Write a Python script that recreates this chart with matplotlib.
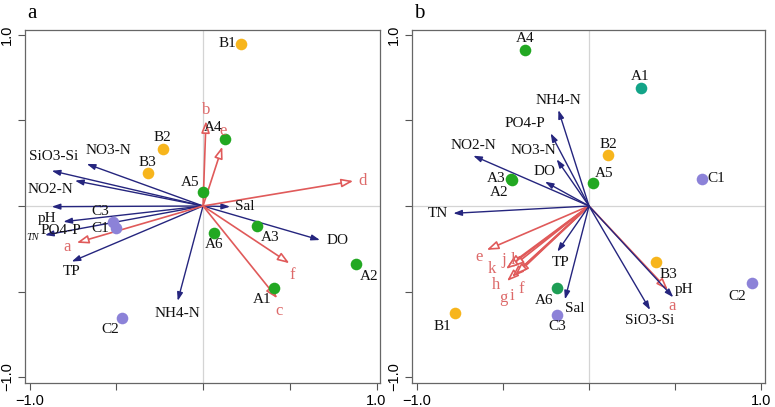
import matplotlib
matplotlib.use("Agg")
import matplotlib.pyplot as plt

plt.rcParams['font.family'] = ['Liberation Serif', 'DejaVu Serif']

# ---- panel a: sites ----
a_sites = ['B1', 'B2', 'B3', 'A4', 'A5', 'C3', 'C1', 'A6', 'A3', 'A2', 'A1', 'C2']
a_site_x = [0.22, -0.233, -0.319, 0.129, 0.0, -0.517, -0.502, 0.066, 0.313, 0.880, 0.410, -0.465]
a_site_y = [0.95, 0.332, 0.191, 0.394, 0.08, -0.092, -0.131, -0.156, -0.115, -0.339, -0.480, -0.654]

# ---- panel a: environmental vectors ----
a_env = ['SiO3-Si', 'NO3-N', 'NO2-N', 'pH', 'PO4-P', 'TN', 'TP', 'NH4-N', 'Sal', 'DO']
a_env_x = [-0.872, -0.670, -0.738, -0.872, -0.805, -0.911, -0.757, -0.146, 0.156, 0.674]
a_env_y = [0.206, 0.246, 0.148, -0.004, -0.092, -0.170, -0.325, -0.555, -0.004, -0.199]

# ---- panel a: species vectors ----
a_sp = ['a', 'b', 'e', 'd', 'f', 'c']
a_sp_x = [-0.728, 0.017, 0.111, 0.866, 0.498, 0.428]
a_sp_y = [-0.215, 0.497, 0.347, 0.146, -0.335, -0.540]

# ---- panel b: sites ----
b_sites = ['A4', 'A1', 'B2', 'C1', 'A5', 'A3', 'A2', 'B3', 'C2', 'A6', 'C3', 'B1']
b_site_x = [-0.372, 0.300, 0.112, 0.655, 0.021, -0.455, -0.45, 0.388, 0.946, -0.186, -0.186, -0.779]
b_site_y = [0.912, 0.692, 0.298, 0.158, 0.133, 0.158, 0.15, -0.325, -0.452, -0.481, -0.637, -0.627]

# ---- panel b: environmental vectors ----
b_env = ['NH4-N', 'PO4-P', 'NO3-N', 'DO', 'NO2-N', 'TN', 'TP', 'Sal', 'SiO3-Si', 'pH']
b_env_x = [-0.178, -0.223, -0.188, -0.256, -0.673, -0.789, -0.184, -0.140, 0.355, 0.490]
b_env_y = [0.561, 0.425, 0.273, 0.142, 0.294, -0.043, -0.267, -0.546, -0.608, -0.534]

# ---- panel b: species vectors ----
b_sp = ['e', 'j', 'l', 'k', 'f', 'h', 'g', 'i', 'a']
b_sp_x = [-0.595, -0.470, -0.448, -0.483, -0.419, -0.477, -0.448, -0.430, 0.459]
b_sp_y = [-0.257, -0.350, -0.357, -0.368, -0.398, -0.439, -0.415, -0.403, -0.491]

# colours
GREEN = '#22a822'
ORANGE = '#f7b51c'
PURPLE = '#8c82d8'
TEAL = '#13a488'
NAVY = '#25257e'
RED = '#e05a5a'
RED_TXT = '#dd6a6a'

a_site_col = {'A': GREEN, 'B': ORANGE, 'C': PURPLE}
b_site_col = {'A1': TEAL, 'A6': '#1e9e55'}

# label offsets in pixels (dx, dy, ha)
a_site_off = {'B1': (-5, 0, 'right'), 'B2': (0, 12, 'center'), 'B3': (0, 11, 'center'),
              'A4': (-12, 11, 'center'), 'A5': (-13, 10, 'center'), 'C3': (-13, 10, 'center'),
              'C1': (-16, 0, 'center'), 'A6': (0, -12, 'center'), 'A3': (13, -12, 'center'),
              'A2': (13, -13, 'center'), 'A1': (-12, -11, 'center'), 'C2': (-12, -12, 'center')}
a_env_off = {'SiO3-Si': (2, 14, 'center'), 'NO3-N': (22, 13, 'center'), 'NO2-N': (-25, -9, 'center'),
             'pH': (-5, -12, 'center'), 'PO4-P': (-2, -9, 'center'), 'TN': (-12, -2, 'center'),
             'TP': (0, -10, 'center'), 'NH4-N': (0, -13, 'center'), 'Sal': (5, 0, 'left'),
             'DO': (7, 0, 'left')}
a_sp_off = {'a': (-10, -4, 'center'), 'b': (0, 11, 'center'), 'e': (1, 16, 'center'),
            'd': (5, 0, 'left'), 'f': (3, -12, 'center'), 'c': (2, -13, 'center')}

b_site_off = {'A4': (0, 12, 'center'), 'A1': (0, 11, 'center'), 'B2': (0, 11, 'center'),
              'C1': (6, 0, 'left'), 'A5': (12, 10, 'center'), 'A3': (-15, 0, 'center'),
              'A2': (-12, -12, 'center'), 'B3': (13, -13, 'center'), 'C2': (-15, -13, 'center'),
              'A6': (-13, -12, 'center'), 'C3': (0, -12, 'center'), 'B1': (-13, -13, 'center')}
b_env_off = {'NH4-N': (0, 10, 'center'), 'PO4-P': (-26, 10, 'center'), 'NO3-N': (-23, 9, 'center'),
             'DO': (0, 10, 'center'), 'NO2-N': (0, 10, 'center'), 'TN': (-5, 0, 'right'),
             'TP': (3, -11, 'center'), 'Sal': (10, -9, 'center'), 'SiO3-Si': (0, -11, 'center'),
             'pH': (11, 8, 'center')}
b_sp_off = {'e': (-8, -7, 'center'), 'j': (-4, 6, 'center'), 'l': (1, 7, 'center'),
            'k': (-14, 0, 'center'), 'f': (4, -15, 'center'), 'h': (-11, -4, 'center'),
            'g': (-9, -21, 'center'), 'i': (-3, -21, 'center'), 'a': (4, -16, 'center')}


def arrow(ax, x, y, col, open_head=False):
    if open_head:
        props = dict(arrowstyle='-|>,head_length=0.7,head_width=0.25', lw=1.2,
                     ec=col, fc='white', shrinkA=0, shrinkB=0)
    else:
        props = dict(arrowstyle='-|>,head_length=0.5,head_width=0.17', lw=1.0,
                     color=col, shrinkA=0, shrinkB=0)
    ax.annotate('', xy=(x, y), xytext=(0, 0), arrowprops=props, zorder=2)


def label(ax, txt, x, y, off, col='#111111', size=11, style='normal'):
    dx, dy, ha = off
    ax.annotate(txt, xy=(x, y), xytext=(dx, dy), textcoords='offset pixels',
                ha=ha, va='center', color=col, fontsize=size, fontstyle=style, zorder=5)


def setup(ax):
    ax.axhline(0, color='#d4d4d4', lw=0.9, zorder=0)
    ax.axvline(0, color='#d4d4d4', lw=0.9, zorder=0)
    ax.set_xticks([-1, -0.5, 0, 0.5, 1])
    ax.set_yticks([-1, -0.5, 0, 0.5, 1])
    ax.set_xticklabels(['\u22121.0', '', '', '', '1.0'], family='Liberation Sans', fontsize=10.5)
    ax.set_yticklabels(['\u22121.0', '', '', '', '1.0'], family='Liberation Sans', fontsize=10.5,
                       rotation=90, va='center')
    ax.tick_params(length=5, width=0.8, color='#555555', pad=3)
    for s in ax.spines.values():
        s.set_color('#666666')
        s.set_linewidth(0.9)


fig = plt.figure(figsize=(7.75, 4.07), dpi=100)
ax1 = fig.add_axes([25 / 775, 24 / 407, 355 / 775, 353 / 407])
ax2 = fig.add_axes([412 / 775, 24 / 407, 353 / 775, 353 / 407])
fig.text(27 / 775, 1 - 13 / 407, 'a', fontsize=15, ha='left', va='center')
fig.text(414 / 775, 1 - 13 / 407, 'b', fontsize=15, ha='left', va='center')

# panel a
ax1.set_xlim(-1.026, 1.020)
ax1.set_ylim(-1.035, 1.029)
setup(ax1)
for n, x, y in zip(a_env, a_env_x, a_env_y):
    arrow(ax1, x, y, NAVY)
    if n == 'TN':
        label(ax1, n, x, y, a_env_off[n], size=7.5, style='italic')
    else:
        label(ax1, n, x, y, a_env_off[n])
for n, x, y in zip(a_sp, a_sp_x, a_sp_y):
    arrow(ax1, x, y, RED, open_head=True)
    label(ax1, n, x, y, a_sp_off[n], col=RED_TXT, size=12)
for n, x, y in zip(a_sites, a_site_x, a_site_y):
    ax1.scatter(x, y, s=70, color=a_site_col[n[0]], zorder=4, linewidths=0)
    label(ax1, n, x, y, a_site_off[n])

# panel b
ax2.set_xlim(-1.029, 1.023)
ax2.set_ylim(-1.035, 1.029)
setup(ax2)
for n, x, y in zip(b_sp, b_sp_x, b_sp_y):
    arrow(ax2, x, y, RED, open_head=True)
    label(ax2, n, x, y, b_sp_off[n], col=RED_TXT, size=12)
for n, x, y in zip(b_env, b_env_x, b_env_y):
    arrow(ax2, x, y, NAVY)
    label(ax2, n, x, y, b_env_off[n])
for n, x, y in zip(b_sites, b_site_x, b_site_y):
    col = b_site_col.get(n, a_site_col[n[0]])
    ax2.scatter(x, y, s=70, color=col, zorder=4, linewidths=0)
    label(ax2, n, x, y, b_site_off[n])

fig.savefig('out.png', dpi=100)
